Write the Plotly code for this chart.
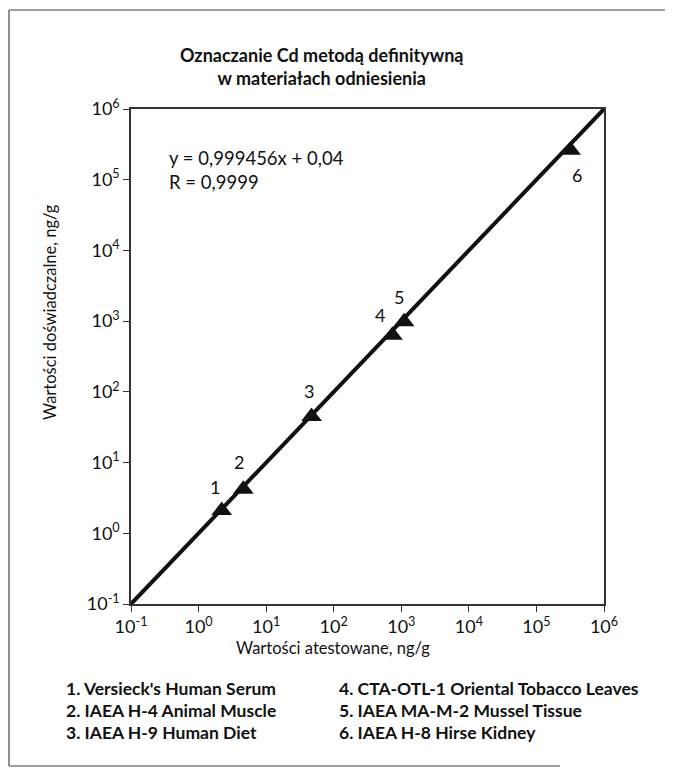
import math
import plotly.graph_objects as go

# data
point_labels = ["1", "2", "3", "4", "5", "6"]
certified = [2.2, 4.6, 47, 740, 1100, 320000]       # Wartości atestowane, ng/g
measured = [2.1, 4.2, 45, 630, 980, 260000]         # Wartości doświadczalne, ng/g
fit_x = [0.1, 1e6]
fit_y = [0.1, 1e6]
tick_vals = [0.1, 1, 10, 100, 1000, 1e4, 1e5, 1e6]
tick_text = ["10<sup>-1</sup>", "10<sup>0</sup>", "10<sup>1</sup>", "10<sup>2</sup>",
             "10<sup>3</sup>", "10<sup>4</sup>", "10<sup>5</sup>", "10<sup>6</sup>"]
materials_left = ["1. Versieck's Human Serum", "2. IAEA H-4 Animal Muscle", "3. IAEA H-9 Human Diet"]
materials_right = ["4. CTA-OTL-1 Oriental Tobacco Leaves", "5. IAEA MA-M-2 Mussel Tissue",
                   "6. IAEA H-8 Hirse Kidney"]
label_offsets = [(-7, 24), (-4, 27), (-3, 25), (-12, 20), (-5, 25), (6, -25)]

FONT = "Lato, 'Open Sans', sans-serif"
INK = "#111111"

# page offset (browser body margin) compensation
OFF = 8
W, H = 665, 760
PL, PR, PT, PB = 131 - OFF, 604 - OFF, 109 - OFF, 604 - OFF
PW, PH = PR - PL, PB - PT


def px_x(x):
    return (x - OFF - PL) / PW


def px_y(y):
    return (PB - (y - OFF)) / PH


fig = go.Figure()
fig.add_trace(go.Scatter(x=fit_x, y=fit_y, mode="lines",
                         line=dict(color=INK, width=4), hoverinfo="skip", showlegend=False))
fig.add_trace(go.Scatter(x=certified, y=measured, mode="markers",
                         marker=dict(symbol="triangle-up", size=18, color=INK),
                         showlegend=False))

for lab, xv, yv, (dx, dy) in zip(point_labels, certified, measured, label_offsets):
    fig.add_annotation(x=math.log10(xv), y=math.log10(yv), xref="x", yref="y", text=lab,
                       showarrow=False, xshift=dx, yshift=dy,
                       font=dict(family=FONT, size=18, color=INK))

axis_common = dict(type="log", range=[-1, 6], tickvals=tick_vals, ticktext=tick_text,
                   ticks="outside", ticklen=6, tickwidth=1.2, tickcolor="#333",
                   showline=True, linecolor="#333", linewidth=1.5, mirror=True,
                   showgrid=False, zeroline=False,
                   tickfont=dict(family=FONT, size=18, color=INK))
fig.update_xaxes(**axis_common)
fig.update_yaxes(**axis_common)

fig.add_annotation(x=px_x(322), y=px_y(66), xref="paper", yref="paper",
                   text="<b>Oznaczanie Cd metodą definitywną<br>w materiałach odniesienia</b>",
                   showarrow=False, xanchor="center", yanchor="middle", align="center",
                   font=dict(family=FONT, size=18, color=INK))
fig.add_annotation(x=px_x(167), y=px_y(170), xref="paper", yref="paper",
                   text="y = 0,999456x + 0,04<br>R = 0,9999",
                   showarrow=False, xanchor="left", yanchor="middle", align="left",
                   font=dict(family=FONT, size=18.5, color=INK))
fig.add_annotation(x=px_x(333), y=px_y(648), xref="paper", yref="paper",
                   text="Wartości atestowane, ng/g", showarrow=False,
                   xanchor="center", yanchor="middle",
                   font=dict(family=FONT, size=16.5, color=INK))
fig.add_annotation(x=px_x(50), y=px_y(312), xref="paper", yref="paper",
                   text="Wartości doświadczalne, ng/g", showarrow=False, textangle=-90,
                   xanchor="center", yanchor="middle",
                   font=dict(family=FONT, size=16.5, color=INK))

for i, t in enumerate(materials_left):
    fig.add_annotation(x=px_x(64), y=px_y(688 + 22 * i), xref="paper", yref="paper",
                       text="<b>" + t + "</b>", showarrow=False, xanchor="left", yanchor="middle",
                       font=dict(family=FONT, size=17.5, color=INK))
for i, t in enumerate(materials_right):
    fig.add_annotation(x=px_x(337), y=px_y(688 + 22 * i), xref="paper", yref="paper",
                       text="<b>" + t + "</b>", showarrow=False, xanchor="left", yanchor="middle",
                       font=dict(family=FONT, size=17.5, color=INK))

# outer frame (top, left, bottom)
for (x0, y0, x1, y1) in [(9, 10, 673, 10), (9, 10, 9, 766), (9, 766, 560, 766)]:
    fig.add_shape(type="line", xref="paper", yref="paper",
                  x0=px_x(x0), y0=px_y(y0), x1=px_x(x1), y1=px_y(y1),
                  line=dict(color="#444", width=1.2))

fig.update_layout(width=W, height=H, margin=dict(l=PL, r=W - PR, t=PT, b=H - PB),
                  paper_bgcolor="white", plot_bgcolor="white", showlegend=False)

fig.write_html("out.html")
